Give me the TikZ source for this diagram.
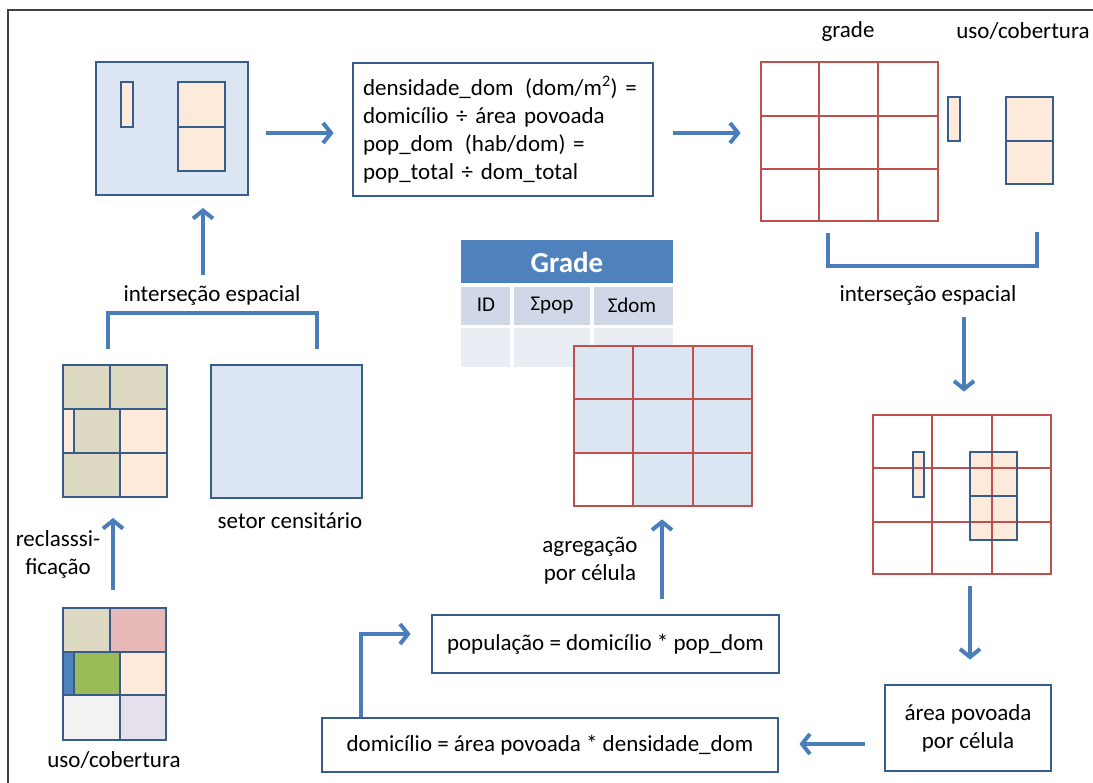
\documentclass[tikz,border=0pt]{standalone}
\usepackage{fontspec}
\setmainfont{Carlito}
\usepackage{tikz}
\definecolor{bordblue}{HTML}{385D8A}
\definecolor{arrblue}{HTML}{4A7EBB}
\definecolor{lblue}{HTML}{DCE6F2}
\definecolor{peach}{HTML}{FDEADA}
\definecolor{tan}{HTML}{DDD9C3}
\definecolor{rose}{HTML}{E6B9B8}
\definecolor{leaf}{HTML}{9BBB59}
\definecolor{accblue}{HTML}{4F81BD}
\definecolor{lgray}{HTML}{F2F2F2}
\definecolor{lav}{HTML}{E5E0EC}
\definecolor{gridred}{HTML}{C0504D}
\definecolor{tabrow}{HTML}{D0D8E8}
\definecolor{tabrowb}{HTML}{E9EDF4}
\newcommand{\fs}{\fontsize{23}{28}\selectfont}
\tikzstyle{block}=[draw=bordblue, line width=2.8pt, fill=white, font=\fs, inner sep=0pt]
\tikzstyle{mapbox}=[draw=bordblue, line width=2.8pt, inner sep=0pt, outer sep=0pt]
\tikzstyle{cell}=[draw=bordblue, line width=2.8pt]
\tikzstyle{redgrid}=[draw=gridred, line width=2.8pt]
\tikzstyle{lbl}=[font=\fs, align=center]
\tikzstyle{arrow}=[draw=arrblue, line width=4pt, -{Straight Barb[length=8pt,width=20pt]}]
\tikzstyle{bracket}=[draw=arrblue, line width=4pt]
\usetikzlibrary{arrows.meta,positioning,calc}

\begin{document}
\begin{tikzpicture}[x=1pt,y=-1pt]
\useasboundingbox (0,0) rectangle (1093,783);
\draw[black!75, line width=1.2pt] (8,10) rectangle (1110,800);

\node[mapbox, fill=lblue, minimum width=152pt, minimum height=133pt] (tl) at (172,128.5) {};
\filldraw[cell, fill=peach] (121,82) rectangle (133,127);
\filldraw[cell, fill=peach] (178,82) rectangle (225,127);
\filldraw[cell, fill=peach] (178,127) rectangle (225,171);

\node[block, minimum width=300pt, minimum height=133pt, text width=280pt, align=left] (form) at (503,129.5)
  {densidade\_dom\hspace{4pt} (dom/m\textsuperscript{2}) =\\domicílio ÷ área povoada\\pop\_dom\hspace{4pt} (hab/dom) =\\pop\_total ÷ dom\_total};

\node[redgrid, fill=white, inner sep=0pt, minimum width=177pt, minimum height=159pt] (grd) at (849.5,141.5) {};
\foreach \x in {819,878} \draw[redgrid] (\x,62) -- (\x,221);
\foreach \y in {116,169} \draw[redgrid] (761,\y) -- (938,\y);
\filldraw[cell, fill=peach] (948,97) rectangle (960,141);
\filldraw[cell, fill=peach] (1006,97) rectangle (1053,141);
\filldraw[cell, fill=peach] (1006,141) rectangle (1053,184);
\node[inner sep=0pt, minimum width=47pt, minimum height=87pt] (cov) at (1029.5,140.5) {};
\node[lbl] (grdlbl) at (848,31) {grade};
\node[lbl] (covlbl) at (1023,31) {uso/cobertura};

\node[lbl] (intL) at (212,295) {interseção espacial};
\node[lbl] (intR) at (928,295) {interseção espacial};

\foreach \a/\b/\c/\d/\col in {63/365/110/409/tan, 110/365/167/409/tan, 63/409/74/453/peach, 74/409/120/453/tan,
  120/409/167/453/peach, 63/453/120/497/tan, 120/453/167/497/peach}
  \filldraw[cell, fill=\col] (\a,\b) rectangle (\c,\d);
\node[mapbox, minimum width=104pt, minimum height=132pt] (recl) at (115,431) {};
\node[mapbox, fill=lblue, minimum width=151pt, minimum height=133pt] (setor) at (286.5,431.5) {};
\node[lbl] (setlbl) at (290,521) {setor censitário};

\foreach \a/\b/\c/\d/\col in {63/608/110/652/tan, 110/608/166/652/rose, 63/652/74/695/accblue, 74/652/120/695/leaf,
  120/652/166/695/peach, 63/695/120/740/lgray, 120/695/166/740/lav}
  \filldraw[cell, fill=\col] (\a,\b) rectangle (\c,\d);
\node[mapbox, minimum width=103pt, minimum height=132pt] (uso) at (114.5,674) {};
\node[lbl] (usolbl) at (114,760) {uso/cobertura};
\node[lbl] (recllbl) at (58,554) {reclasssi-\\ficação};

\fill[accblue] (461,240) rectangle (673,283);
\node[font=\bfseries\fontsize{29}{30}\selectfont, text=white] (tabh) at (567,262) {Grade};
\foreach \a/\c in {461/510, 514/590, 594/673} {
  \fill[tabrow] (\a,287) rectangle (\c,325);
  \fill[tabrowb] (\a,328) rectangle (\c,367);
}
\node[font=\fontsize{21}{24}\selectfont] (tid) at (486,305) {ID};
\node[font=\fontsize{21}{24}\selectfont] (tpop) at (552,305) {Σpop};
\node[font=\fontsize{21}{24}\selectfont] (tdom) at (632,305) {Σdom};

\node[redgrid, fill=lblue, inner sep=0pt, minimum width=178pt, minimum height=160pt] (gmid) at (663,426) {};
\fill[white] (574,453) rectangle (633,506);
\draw[redgrid] (574,346) rectangle (752,506);
\foreach \x in {633,693} \draw[redgrid] (\x,346) -- (\x,506);
\foreach \y in {399,453} \draw[redgrid] (574,\y) -- (752,\y);
\node[lbl] (agrlbl) at (590,561) {agregação\\por célula};

\fill[peach] (913,452) rectangle (924,497);
\fill[peach] (970,452) rectangle (1017,540);
\node[redgrid, inner sep=0pt, minimum width=178pt, minimum height=159pt] (grd2) at (962,494.5) {};
\foreach \x in {932,992} \draw[redgrid] (\x,415) -- (\x,574);
\foreach \y in {468,522} \draw[redgrid] (873,\y) -- (1051,\y);
\draw[cell] (913,452) rectangle (924,497);
\draw[cell] (970,452) rectangle (1017,496);
\draw[cell] (970,496) rectangle (1017,540);

\node[block, minimum width=347pt, minimum height=58pt] (pop) at (605.5,644) {população = domicílio * pop\_dom};
\node[block, minimum width=456pt, minimum height=54pt] (dom) at (550,745) {domicílio = área povoada * densidade\_dom};
\node[block, minimum width=166pt, minimum height=86pt, align=center] (area) at (968,728) {área povoada\\por célula};

\draw[arrow] ([xshift=18pt,yshift=-4.5pt]tl.east) -- ([xshift=-18pt,yshift=-3.5pt]form.west);
\draw[arrow] ([xshift=19pt,yshift=-3.5pt]form.east) -- ([xshift=-19pt,yshift=8.5pt]grd.west);
\draw[arrow] ([xshift=-9pt,yshift=7pt]intL.north) -- ([xshift=31pt,yshift=-13pt]tl.south);
\draw[arrow] ([xshift=-1.5pt,yshift=18pt]uso.north) -- ([xshift=-2pt,yshift=-21pt]recl.south);
\draw[arrow] ([xshift=2pt,yshift=97pt]grd2.north) -- ([xshift=2pt,yshift=22pt]grd2.north);
\draw[arrow] ([xshift=8pt,yshift=-11pt]grd2.south) -- ([xshift=2pt,yshift=24pt]area.north);
\draw[arrow] ([xshift=-19pt,yshift=-16pt]area.west) -- ([xshift=20pt,yshift=1pt]dom.east);
\draw[arrow] ([xshift=-189pt]dom.north) |- ([xshift=-20pt,yshift=10pt]pop.west);
\draw[arrow] ([xshift=56.5pt,yshift=15pt]pop.north) -- ([xshift=-1pt,yshift=-12pt]gmid.south);

\draw[bracket] ([xshift=-7pt,yshift=16pt]recl.north) |- ([xshift=30.5pt,yshift=52pt]setor.north) -- ([xshift=30.5pt,yshift=16pt]setor.north);
\draw[bracket] ([xshift=-21.5pt,yshift=-11pt]grd.south) |- ([xshift=7.5pt,yshift=-82pt]cov.south) -- ([xshift=7.5pt,yshift=-48pt]cov.south);
\end{tikzpicture}
\end{document}
